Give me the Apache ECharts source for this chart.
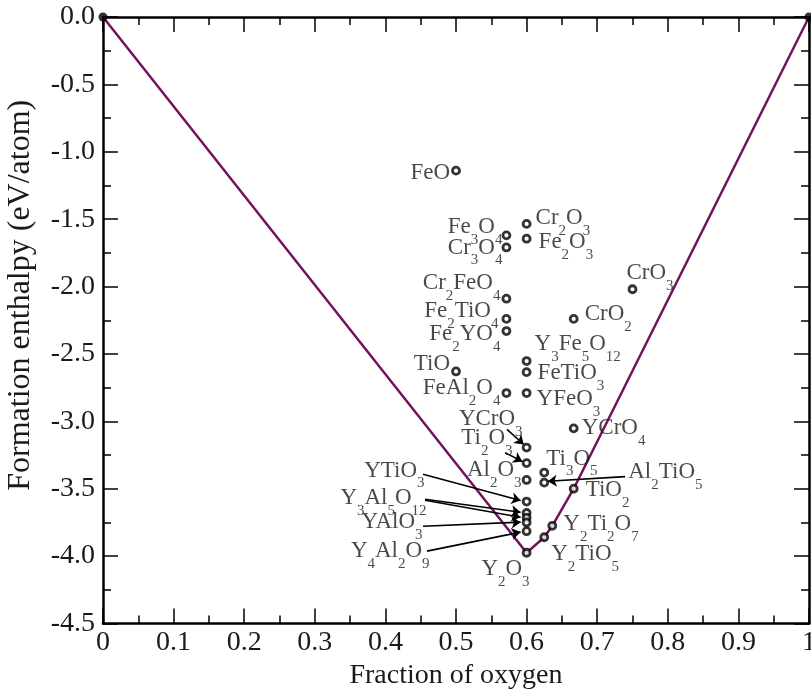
<!DOCTYPE html>
<html>
<head>
<meta charset="utf-8">
<script src="https://cdn.jsdelivr.net/npm/echarts@6/dist/echarts.min.js"></script>
<style>
html,body{margin:0;padding:0;background:#fff;}
#chart{width:811px;height:691px;}
</style>
</head>
<body>
<div id="chart"></div>
<script>
// ---------- data ----------
const compounds = ['FeO','Fe3O4','Cr3O4','Cr2O3','Fe2O3','Cr2FeO4','Fe2TiO4','Fe2YO4','CrO2','CrO3',
  'Y3Fe5O12','FeTiO3','TiO','FeAl2O4','YFeO3','YCrO4','YCrO3','Ti2O3','Al2O3','Ti3O5','Al2TiO5','TiO2',
  'YTiO3','Y3Al5O12','','YAlO3','Y4Al2O9','Y2O3','Y2Ti2O7','Y2TiO5'];
const oxygenFraction = [0.5,0.5714,0.5714,0.6,0.6,0.5714,0.5714,0.5714,0.6667,0.75,
  0.6,0.6,0.5,0.5714,0.6,0.6667,0.6,0.6,0.6,0.625,0.625,0.6667,
  0.6,0.6,0.6,0.6,0.6,0.6,0.6364,0.625];
const enthalpy = [-1.14,-1.62,-1.71,-1.535,-1.645,-2.09,-2.24,-2.33,-2.24,-2.02,
  -2.553,-2.635,-2.63,-2.79,-2.79,-3.052,-3.195,-3.31,-3.435,-3.38,-3.455,-3.50,
  -3.595,-3.68,-3.715,-3.75,-3.815,-3.975,-3.775,-3.86];
const hullX = [0,0.6,0.625,0.6364,0.6667,1];
const hullY = [0,-3.975,-3.86,-3.775,-3.50,0];
const elementsX = [0,1];
const elementsY = [0,0];
// annotation arrows: [fromX, fromY, toX, toY]
const arrows = [
  [0.5722,-3.059,0.5960,-3.172],
  [0.5694,-3.232,0.5940,-3.298],
  [0.7394,-3.410,0.6300,-3.444],
  [0.4533,-3.393,0.5915,-3.588],
  [0.4561,-3.578,0.5915,-3.675],
  [0.4561,-3.585,0.5915,-3.712],
  [0.4533,-3.778,0.5915,-3.748],
  [0.4589,-3.963,0.5915,-3.822]
];
const xTicks = ['0','0.1','0.2','0.3','0.4','0.5','0.6','0.7','0.8','0.9','1'];
const yTicks = ['0.0','-0.5','-1.0','-1.5','-2.0','-2.5','-3.0','-3.5','-4.0','-4.5'];

// ---------- label layout (style) : side, dx, dy (px) ----------
const labelLayout = {
  'FeO':['l',-6,2],'Fe3O4':['l',-4,-8],'Cr3O4':['l',-4,0],'Cr2O3':['r',9,-6],'Fe2O3':['r',12,3],
  'Cr2FeO4':['l',-6,-16],'Fe2TiO4':['l',-8,-8],'Fe2YO4':['l',-6,3],'CrO2':['r',11,-5],'CrO3':['r',-6,-16],
  'Y3Fe5O12':['r',8,-17],'FeTiO3':['r',11,1],'TiO':['l',-6,-8],'FeAl2O4':['l',-6,-5],'YFeO3':['r',10,6],
  'YCrO4':['r',8,0],'YCrO3':['l',-4,-29],'Ti2O3':['l',-14,-25],'Al2O3':['l',-5,-10],'Ti3O5':['r',2,-14],
  'Al2TiO5':['r',84,-11],'TiO2':['r',12,1],'YTiO3':['l',-102,-31],'Y3Al5O12':['l',-100,-15],
  'YAlO3':['l',-104,0],'Y4Al2O9':['l',-97,20],'Y2O3':['l',3,16],'Y2Ti2O7':['r',11,-2],'Y2TiO5':['r',7,17]
};

const FONT = 'Liberation Serif, Times New Roman, serif';
const TXT = '#1a1a1a';
const MAIN_H = 23;

function formula(name){
  return name.replace(/([A-Za-z]+)|(\d+)/g, function(m, a, d){
    return a ? '{m|' + a + '}' : '{s|' + d + '}';
  });
}

const scatterData = compounds.map(function(n, i){
  const item = {name: n, value: [oxygenFraction[i], enthalpy[i]]};
  const L = labelLayout[n];
  if (L) {
    item.label = {show: true, position: 'inside', align: L[0] === 'l' ? 'right' : 'left', verticalAlign: 'top',
      offset: [L[1], L[2] - MAIN_H/2]};
  } else {
    item.label = {show: false};
  }
  return item;
});

const tickNum = function(labels){ return function(v){
  return labels.find(function(t){ return Math.abs(parseFloat(t) - v) < 1e-6; }) || '';
};};

const axisCommon = {
  type: 'value',
  splitLine: {show: false},
  axisLine: {show: true, onZero: false, lineStyle: {color: '#000', width: 2.5}},
  axisTick: {show: true, inside: true, length: 15, lineStyle: {color: '#000', width: 1.5}},
  minorTick: {show: true, splitNumber: 2, length: 8, lineStyle: {color: '#000', width: 1.5}},
  minorSplitLine: {show: false}
};

const option = {
  animation: false,
  backgroundColor: '#fff',
  grid: {left: 103, right: 2, top: 17, bottom: 67.5, containLabel: false, outerBoundsMode: 'none'},
  xAxis: [
    Object.assign({}, axisCommon, {
      position: 'bottom', min: 0, max: 1, interval: 0.1,
      axisLabel: {fontFamily: FONT, fontSize: 28, color: TXT, margin: 5, formatter: tickNum(xTicks)},
      name: 'Fraction of oxygen', nameLocation: 'middle', nameGap: 38,
      nameTextStyle: {fontFamily: FONT, fontSize: 28, color: TXT}
    }),
    Object.assign({}, axisCommon, {
      position: 'top', min: 0, max: 1, interval: 0.1, axisLabel: {show: false}
    })
  ],
  yAxis: [
    Object.assign({}, axisCommon, {
      position: 'left', min: -4.5, max: 0, interval: 0.5,
      axisLabel: {fontFamily: FONT, fontSize: 28, color: TXT, margin: 8, formatter: tickNum(yTicks)},
      name: 'Formation enthalpy (eV/atom)', nameLocation: 'middle', nameGap: 66, nameRotate: 90,
      nameTextStyle: {fontFamily: FONT, fontSize: 32, color: TXT, padding: [0,0,0,50]}
    }),
    Object.assign({}, axisCommon, {
      position: 'right', min: -4.5, max: 0, interval: 0.5, axisLabel: {show: false}
    })
  ],
  series: [
    {
      type: 'line', name: 'hull', data: hullX.map(function(x, i){ return [x, hullY[i]]; }),
      symbol: 'none', lineStyle: {color: '#74125c', width: 2.5}, z: 3, silent: true
    },
    {
      type: 'lines', coordinateSystem: 'cartesian2d', z: 4, silent: true,
      data: arrows.map(function(a){ return {coords: [[a[0], a[1]], [a[2], a[3]]]}; }),
      symbol: ['none', 'arrow'], symbolSize: 9,
      lineStyle: {color: '#000', width: 1.6, opacity: 1}
    },
    {
      type: 'scatter', name: 'compounds', data: scatterData, z: 5,
      symbol: 'circle', symbolSize: 7,
      itemStyle: {color: '#fff', borderColor: '#000', borderWidth: 2.8},
      label: {
        show: true, position: 'inside', formatter: function(p){ return formula(p.name); },
        rich: {
          m: {fontFamily: FONT, fontSize: 23, color: TXT, lineHeight: MAIN_H, verticalAlign: 'top'},
          s: {fontFamily: FONT, fontSize: 15, color: TXT, lineHeight: 32, verticalAlign: 'bottom'}
        }
      }
    },
    {
      type: 'scatter', name: 'elements', z: 6,
      data: elementsX.map(function(x, i){ return [x, elementsY[i]]; }),
      symbol: 'circle', symbolSize: 9, itemStyle: {color: '#000'}
    }
  ]
};

const chart = echarts.init(document.getElementById('chart'), null, {renderer: 'canvas'});
chart.setOption(option);
</script>
</body>
</html>
